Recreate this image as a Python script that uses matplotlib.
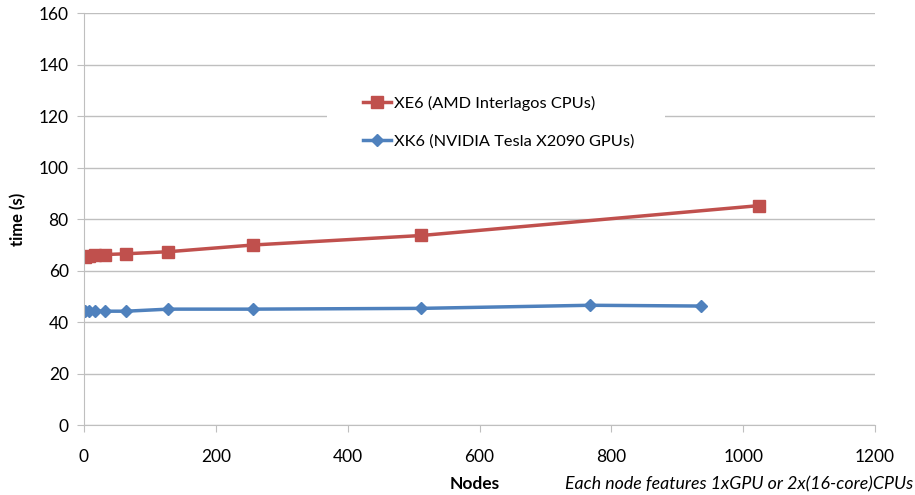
import matplotlib.pyplot as plt
from matplotlib.patches import Rectangle

plt.rcParams["font.family"] = ["Lato", "DejaVu Sans"]

# data
xe6_nodes = [1, 8, 16, 32, 64, 128, 256, 512, 1024]
xe6_time = [65.1, 65.5, 66.0, 66.2, 66.5, 67.3, 69.9, 73.6, 85.2]
xk6_nodes = [1, 8, 16, 32, 64, 128, 256, 512, 768, 936]
xk6_time = [44.3, 44.2, 44.3, 44.2, 44.2, 45.0, 45.0, 45.3, 46.5, 46.2]
xe6_label = "XE6 (AMD Interlagos CPUs)"
xk6_label = "XK6 (NVIDIA Tesla X2090 GPUs)"

red = "#C0504D"
blue = "#4F81BD"
grey = "#BFBFBF"

fig = plt.figure(figsize=(9.15, 4.95), dpi=100)
ax = fig.add_axes([0.0918, 0.1414, 0.8645, 0.8323])

ax.plot(xe6_nodes, xe6_time, color=red, lw=2.5, marker="s", ms=8, label=xe6_label)
ax.plot(xk6_nodes, xk6_time, color=blue, lw=2.5, marker="D", ms=6, label=xk6_label)

ax.set_xlim(0, 1200)
ax.set_ylim(0, 160)
ax.set_xticks(range(0, 1201, 200))
ax.set_yticks(range(0, 161, 20))
ax.yaxis.grid(True, color=grey, lw=1)
ax.set_axisbelow(True)
for s in ["top", "right"]:
    ax.spines[s].set_visible(False)
for s in ["left", "bottom"]:
    ax.spines[s].set_color(grey)
ax.tick_params(axis="both", colors=grey, length=5, labelcolor="black", labelsize=12.5)
ax.tick_params(axis="x", pad=12)
ax.tick_params(axis="y", pad=6)

ax.set_ylabel("time (s)", fontsize=12, fontweight="bold", labelpad=9)
fig.text(0.519, 0.012, "Nodes", fontsize=12.5, fontweight="bold", ha="center")
fig.text(0.617, 0.012, "Each node features 1xGPU or 2x(16-core)CPUs",
         fontsize=12.8, style="italic", ha="left")

# white legend box breaking the gridline at 120
ax.add_patch(Rectangle((0.307, 0.70), 0.428, 0.09, transform=ax.transAxes,
                       facecolor="white", edgecolor="none", zorder=0.8))

ax.legend(loc="center left", bbox_to_anchor=(0.353, 0.735), frameon=False,
          fontsize=11.8, labelspacing=1.42, handlelength=1.7, handletextpad=0.15,
          borderpad=0, borderaxespad=0)

fig.savefig("out.png", dpi=100)
